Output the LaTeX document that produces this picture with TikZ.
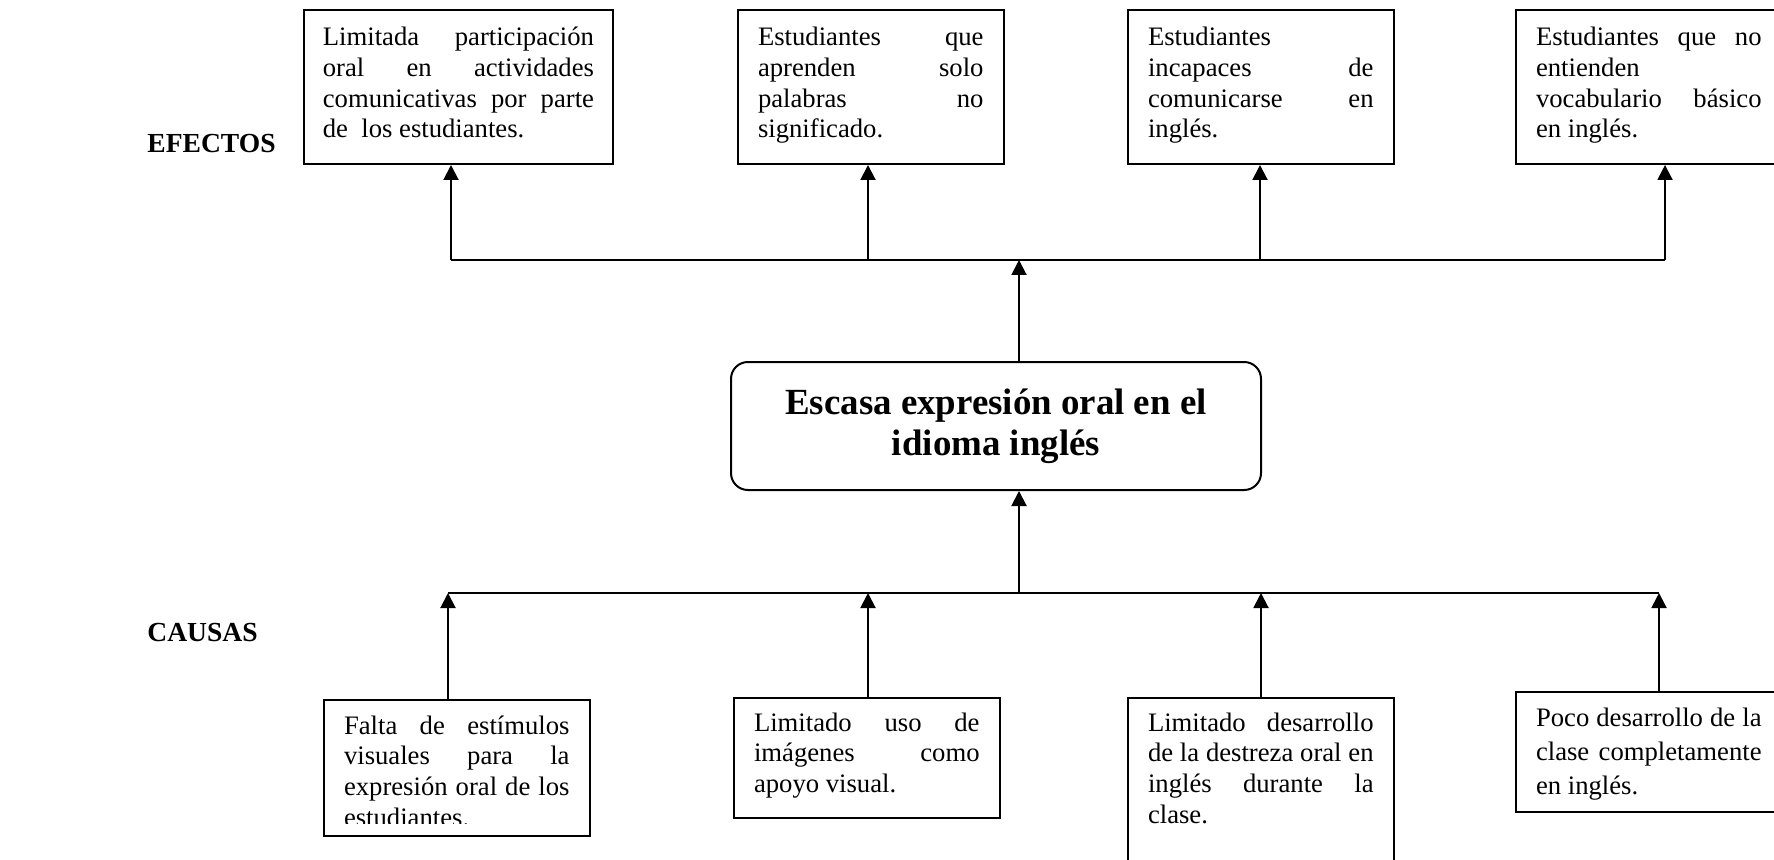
\documentclass[tikz,border=0pt]{standalone}
\usepackage{fontspec}
\setmainfont{Liberation Serif}
\usetikzlibrary{arrows.meta}
\newcommand{\lj}[1]{\makebox[\linewidth][s]{#1}}
\tikzstyle{caja} = [draw, line width=0.9pt, anchor=north west, inner xsep=9pt, inner ysep=0pt, text width=101.5pt, align=left, font=\fontsize{12}{13.8}\selectfont]
\tikzstyle{problema} = [draw, line width=0.9pt, rounded corners=7.6pt, minimum width=238.5pt, minimum height=57.6pt, align=center, font=\fontsize{16.6}{18.6}\selectfont\bfseries]
\tikzstyle{etiqueta} = [anchor=base west, inner sep=0pt, font=\fontsize{12.4}{14}\selectfont\bfseries]
\tikzstyle{linea} = [line width=0.9pt]
\tikzstyle{flecha} = [line width=0.9pt, -{Triangle[length=6.75pt,width=6.75pt]}]
\tikzset{margen/.style 2 args={execute at begin node={\spaceskip=0pt\xspaceskip=0pt\rule{0pt}{#1}}, execute at end node={\rule[-#2]{0pt}{#2}}}}

\begin{document}
\begin{tikzpicture}[x=0.45pt, y=-0.45pt]
    \useasboundingbox (0,0) rectangle (1774,860);

    \node[etiqueta] (efectos) at (147,153) {EFECTOS};
    \node[etiqueta] (causas) at (147,641) {CAUSAS};

    % efectos
    \node[caja, margen={16.2pt}{11.7pt}, text width=122pt, inner xsep=8.5pt] (e1) at (303,9)
        {\lj{Limitada participación}\\ \lj{oral en actividades}\\ \lj{comunicativas por parte}\\ de\ \ los estudiantes.};
    \node[caja, margen={16.2pt}{11.7pt}] (e2) at (737,9)
        {\lj{Estudiantes que}\\ \lj{aprenden solo}\\ \lj{palabras no}\\ significado.};
    \node[caja, margen={16.2pt}{11.7pt}] (e3) at (1127,9)
        {Estudiantes\\ \lj{incapaces de}\\ \lj{comunicarse en}\\ inglés.};
    \node[caja, margen={16.2pt}{11.7pt}] (e4) at (1515,9)
        {\lj{Estudiantes que no}\\ entienden\\ \lj{vocabulario básico}\\ en inglés.};

    \node[problema] (tema) at (996,426) {Escasa expresión oral en el\\ idioma inglés};

    % causas
    \node[caja, margen={15.3pt}{4.5pt}] (c1) at (323,699)
        {\lj{Falta de estímulos}\\ \lj{visuales para la}\\ \lj{expresión oral de los}\\ estudiantes.};
    \fill[white] (326,824) rectangle (586,834);
    \node[caja, margen={14.85pt}{11.5pt}] (c2) at (733,697)
        {\lj{Limitado uso de}\\ \lj{imágenes como}\\ apoyo visual.};
    \node[caja, margen={14.85pt}{26pt}] (c3) at (1127,697)
        {\lj{Limitado desarrollo}\\ \lj{de la destreza oral en}\\ \lj{inglés durante la}\\ clase.};
    \node[caja, margen={15.3pt}{8.1pt}, font=\fontsize{12}{15.3}\selectfont] (c4) at (1515,691)
        {\lj{Poco desarrollo de la}\\ \lj{clase completamente}\\ en inglés.};

    % ramas
    \coordinate (ef1) at (451,260);
    \coordinate (ef2) at (868,260);
    \coordinate (ef3) at (1260,260);
    \coordinate (ef4) at (1665,260);
    \coordinate (et) at (1019,260);
    \coordinate (ca1) at (448,593);
    \coordinate (ca2) at (868,593);
    \coordinate (ca3) at (1261,593);
    \coordinate (ca4) at (1659,593);
    \coordinate (ct) at (1019,593);

    \draw[linea] (ef1) -- (ef4);
    \draw[linea] (ca1) -- (ca4);
    \foreach \i in {1,...,4} {
        \draw[flecha] (ef\i) -- (ef\i |- e\i.south);
        \draw[flecha] (ca\i |- c\i.north) -- (ca\i);
    }
    \draw[flecha] (et |- tema.north) -- (et);
    \draw[flecha] (ct) -- (ct |- tema.south);
\end{tikzpicture}
\end{document}
